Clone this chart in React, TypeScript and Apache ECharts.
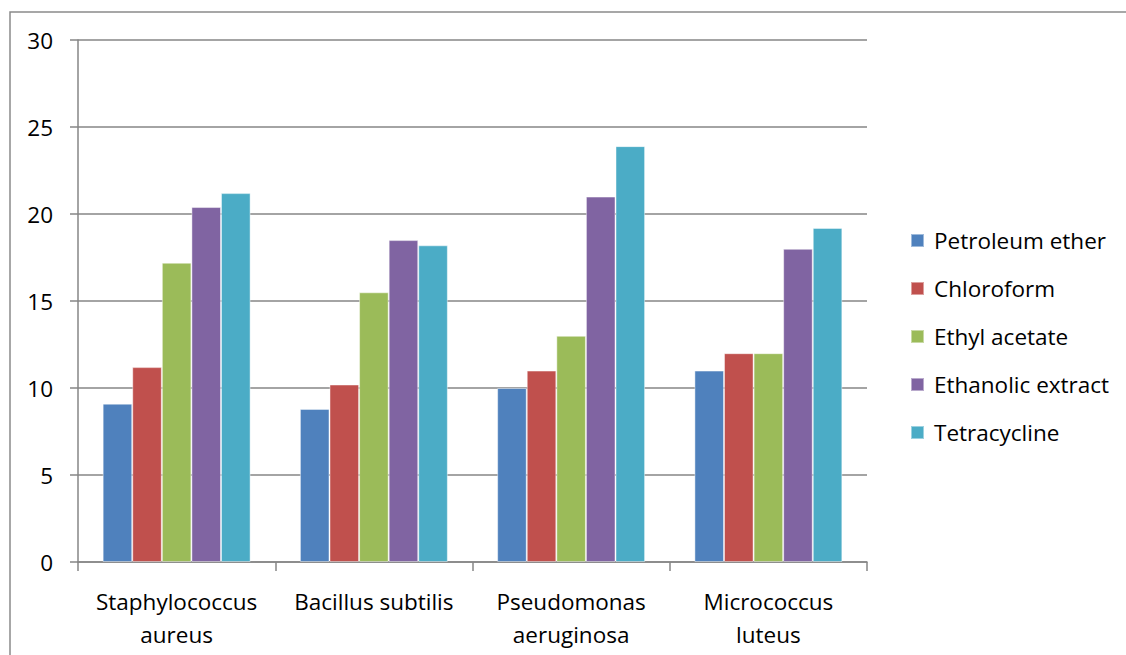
import React, { useEffect, useRef } from "react";
import * as echarts from "echarts";

const categories = ["Staphylococcus\naureus", "Bacillus subtilis", "Pseudomonas\naeruginosa", "Micrococcus\nluteus"];
const seriesNames = ["Petroleum ether", "Chloroform", "Ethyl acetate", "Ethanolic extract", "Tetracycline"];
const petroleumEther = [9.1, 8.8, 10, 11];
const chloroform = [11.2, 10.2, 11, 12];
const ethylAcetate = [17.2, 15.5, 13, 12];
const ethanolicExtract = [20.4, 18.5, 21, 18];
const tetracycline = [21.2, 18.2, 23.9, 19.2];
const seriesValues = [petroleumEther, chloroform, ethylAcetate, ethanolicExtract, tetracycline];
const colors = ["#4F81BD", "#C0504D", "#9BBB59", "#8064A2", "#4BACC6"];

const FONT = "'Open Sans', sans-serif";
const FS = 22.5;

export default function App() {
  const ref = useRef<HTMLDivElement>(null);
  useEffect(() => {
    document.body.style.margin = "0";
    if (!ref.current) return;
    const chart = echarts.init(ref.current, undefined, { renderer: "svg" });
    chart.setOption({
      animation: false,
      backgroundColor: "#ffffff",
      textStyle: { fontFamily: FONT },
      grid: { left: 78, right: 259, top: 40, bottom: 93, containLabel: false },
      legend: {
        orient: "vertical",
        left: 905,
        top: 224,
        itemWidth: 13,
        itemHeight: 13,
        itemGap: 25,
        icon: "rect",
        data: seriesNames,
        textStyle: { fontSize: FS, color: "#000", fontFamily: FONT, lineHeight: 21, padding: [0, 0, 0, 5] },
      },
      xAxis: {
        type: "category",
        data: categories,
        axisLine: { lineStyle: { color: "#868686", width: 1.5 } },
        axisTick: { show: true, length: 9, lineStyle: { color: "#868686", width: 1.5 } },
        axisLabel: { fontSize: FS, color: "#000", lineHeight: 33, margin: 23, fontFamily: FONT, interval: 0 },
      },
      yAxis: {
        type: "value",
        min: 0,
        max: 30,
        interval: 5,
        axisLine: { show: true, lineStyle: { color: "#868686", width: 1.5 } },
        axisTick: { show: true, length: 8, lineStyle: { color: "#868686", width: 1.5 } },
        splitLine: { show: true, lineStyle: { color: "#868686", width: 1.5 } },
        axisLabel: { fontSize: FS, color: "#000", margin: 25, fontFamily: FONT },
      },
      graphic: [
        {
          type: "rect",
          shape: { x: 10, y: 12, width: 1200, height: 700 },
          style: { fill: "none", stroke: "#8a8a8a", lineWidth: 1.5 },
          silent: true,
        },
      ],
      series: seriesNames.map((name, i) => ({
        name,
        type: "bar",
        data: seriesValues[i],
        barGap: "0%",
        barCategoryGap: "25%",
        itemStyle: { color: colors[i], borderColor: "rgba(255,255,255,0.45)", borderWidth: 1 },
      })),
    });
    return () => chart.dispose();
  }, []);
  return <div ref={ref} style={{ width: 1126, height: 655 }} />;
}
